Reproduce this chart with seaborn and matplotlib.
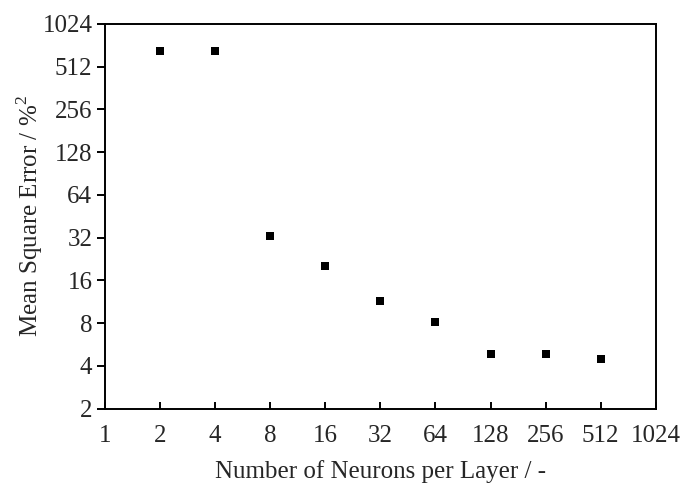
import numpy as np
import pandas as pd
import seaborn as sns
import matplotlib.pyplot as plt
from matplotlib.ticker import FixedLocator, NullLocator

# neurons per layer and the measured mean square error
neurons = [2, 4, 8, 16, 32, 64, 128, 256, 512]
mse = [661, 660, 32.8, 20.2, 11.4, 8.1, 4.82, 4.86, 4.45]

x_ticks = [1, 2, 4, 8, 16, 32, 64, 128, 256, 512, 1024]
y_ticks = [2, 4, 8, 16, 32, 64, 128, 256, 512, 1024]

sns.set_theme(style="white")
plt.rcParams['font.family'] = ['Liberation Serif', 'DejaVu Serif']
plt.rcParams['mathtext.fontset'] = 'custom'
plt.rcParams['mathtext.rm'] = 'Liberation Serif'

df = pd.DataFrame({"neurons": neurons, "mse": mse})

fig = plt.figure(figsize=(6.81, 4.86), dpi=100)
ax = fig.add_axes([0.154, 0.159, 0.809, 0.792])

sns.scatterplot(data=df, x="neurons", y="mse", marker='s', s=40,
                color='black', edgecolor='black', linewidth=0, ax=ax)

ax.set_xscale('log', base=2)
ax.set_yscale('log', base=2)
ax.set_xlim(1, 1024)
ax.set_ylim(2, 1024)
ax.xaxis.set_major_locator(FixedLocator(x_ticks))
ax.yaxis.set_major_locator(FixedLocator(y_ticks))
ax.xaxis.set_minor_locator(NullLocator())
ax.yaxis.set_minor_locator(NullLocator())
ax.set_xticklabels([str(v) for v in x_ticks])
ax.set_yticklabels([str(v) for v in y_ticks])

for sp in ax.spines.values():
    sp.set_color('black')
    sp.set_linewidth(1.4)

ax.tick_params(axis='x', direction='in', length=5, width=1.4,
               labelsize=18, pad=12, color='black', bottom=True)
ax.tick_params(axis='y', direction='out', length=6, width=1.4,
               labelsize=18, pad=3, color='black', left=True)

ax.set_xlabel("Number of Neurons per Layer / -", fontsize=18, labelpad=9)
ax.set_ylabel("Mean Square Error / %$^\\mathregular{2}$", fontsize=18,
              labelpad=-2)

fig.savefig("out.png", dpi=100)
